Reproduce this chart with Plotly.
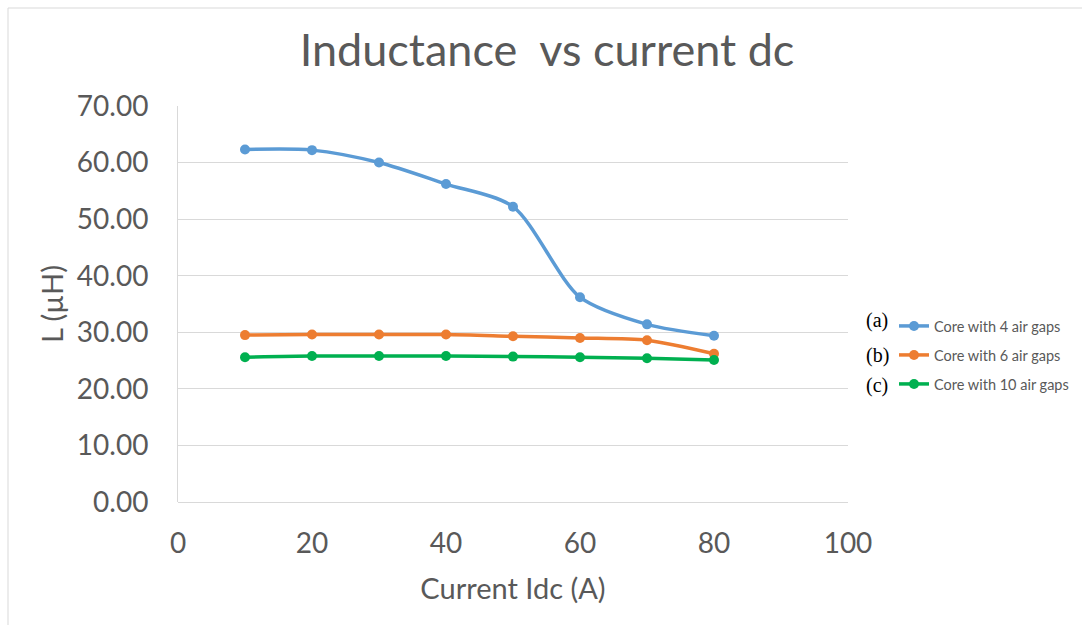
import plotly.graph_objects as go

current = [10, 20, 30, 40, 50, 60, 70, 80]
L_4gaps = [62.3, 62.2, 60.0, 56.2, 52.2, 36.2, 31.4, 29.4]
L_6gaps = [29.5, 29.6, 29.6, 29.6, 29.3, 29.0, 28.6, 26.2]
L_10gaps = [25.6, 25.8, 25.8, 25.8, 25.7, 25.6, 25.4, 25.1]

names = ["Core with 4 air gaps", "Core with 6 air gaps", "Core with 10 air gaps"]
tags = ["(a)", "(b)", "(c)"]
colors = ["#5B9BD5", "#ED7D31", "#00B050"]
series = [L_4gaps, L_6gaps, L_10gaps]

FONT = "Lato"
GRAY = "#595959"

# plot area in pixels
L, R, T, B = 178, 848, 106, 502
W, H = 1082, 625
pw, ph = R - L, B - T

def px_x(px):
    return (px - L) / pw

def px_y(py):
    return (B - py) / ph

fig = go.Figure()
legend_names = ["legend", "legend2", "legend3"]
legend_y = [326, 355, 384]
tag_y = [320, 355, 385]
for i, (nm, ys, c) in enumerate(zip(names, series, colors)):
    fig.add_trace(go.Scatter(
        x=current, y=ys, name=nm, mode="lines+markers",
        line=dict(color=c, width=3.5, shape="spline", smoothing=0.8),
        marker=dict(color=c, size=10),
        legend=legend_names[i], showlegend=True,
    ))

layout_legends = {}
for i, ln in enumerate(legend_names):
    layout_legends[ln] = dict(
        x=px_x(894), y=px_y(legend_y[i]), xanchor="left", yanchor="middle",
        font=dict(family=FONT, size=14.5, color=GRAY),
        bgcolor="rgba(0,0,0,0)", borderwidth=0,
        itemwidth=30,
    )

annotations = []
for i, t in enumerate(tags):
    annotations.append(dict(
        x=px_x(877), y=px_y(tag_y[i]),
        xref="paper", yref="paper", text=t, showarrow=False,
        font=dict(family="Liberation Serif", size=20, color="#000000"),
        xanchor="center", yanchor="middle",
    ))

fig.update_layout(
    width=W, height=H,
    showlegend=True,
    margin=dict(l=L, r=W - R, t=T, b=H - B, autoexpand=False),
    paper_bgcolor="white", plot_bgcolor="white",
    title=dict(text="Inductance  vs current dc", x=547 / W, xanchor="center",
               y=1 - 50 / H, yanchor="middle",
               font=dict(family=FONT, size=45, color=GRAY)),
    xaxis=dict(range=[0, 100], dtick=20, tick0=0, showgrid=False, zeroline=False,
               showline=False, ticks="", ticklabelstandoff=22,
               tickfont=dict(family=FONT, size=28, color=GRAY),
               title=dict(text="Current Idc (A)", font=dict(family=FONT, size=29, color=GRAY),
                          standoff=20)),
    yaxis=dict(range=[0, 70], dtick=10, tick0=0, tickformat=".2f",
               showgrid=True, gridcolor="#D9D9D9", gridwidth=1,
               zeroline=True, zerolinecolor="#D9D9D9", zerolinewidth=1,
               showline=True, linecolor="#D9D9D9", linewidth=1,
               ticks="", ticklabelstandoff=23,
               tickfont=dict(family=FONT, size=28, color=GRAY),
               title=dict(text="L (µH)", font=dict(family=FONT, size=29, color=GRAY),
                          standoff=4)),
    annotations=annotations,
    shapes=[
        dict(type="line", xref="paper", yref="paper",
             x0=px_x(8), x1=px_x(1090), y0=px_y(8), y1=px_y(8),
             line=dict(color="#D9D9D9", width=1), layer="below"),
        dict(type="line", xref="paper", yref="paper",
             x0=px_x(8), x1=px_x(8), y0=px_y(8), y1=px_y(640),
             line=dict(color="#D9D9D9", width=1), layer="below"),
    ],
    **layout_legends,
)

fig.write_html("out.html", config={"displayModeBar": False},
               post_script="document.body.style.margin='0';document.body.style.padding='0';")
